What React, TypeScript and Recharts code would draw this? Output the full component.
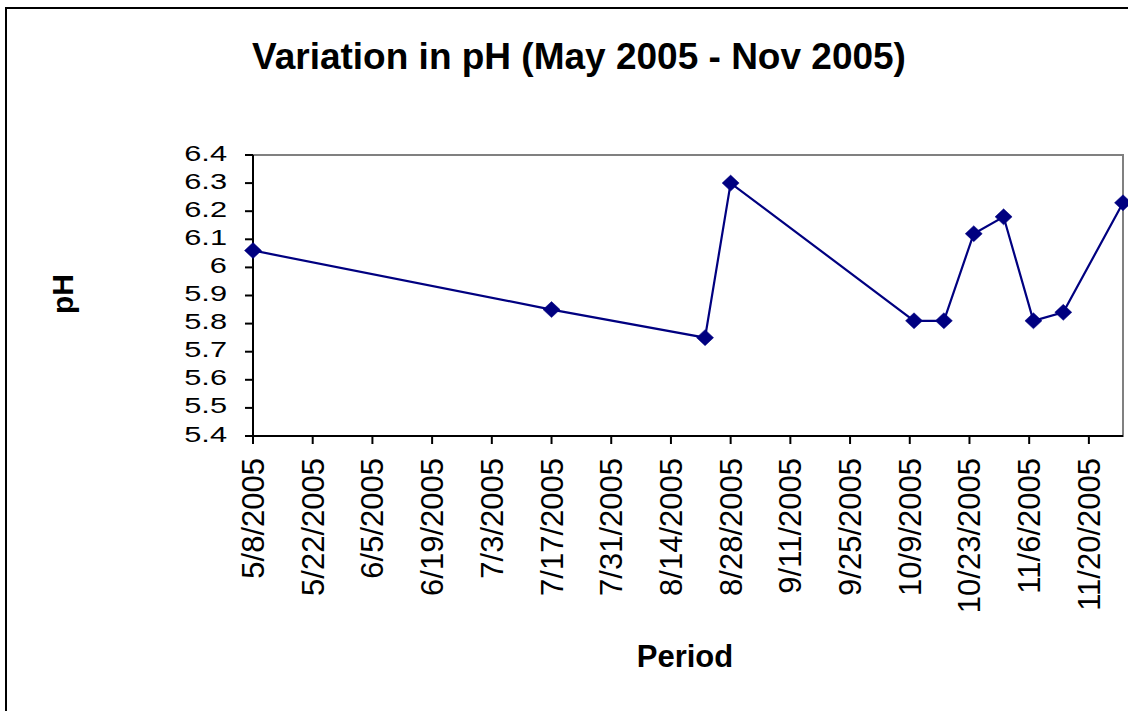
import React from 'react';
import { LineChart, Line, XAxis, YAxis, ReferenceArea } from 'recharts';

const sampleDates = [
  '2005-05-08', '2005-07-17', '2005-08-22', '2005-08-28', '2005-10-10',
  '2005-10-17', '2005-10-24', '2005-10-31', '2005-11-07', '2005-11-14', '2005-11-28',
];
const phValues = [6.06, 5.85, 5.75, 6.3, 5.81, 5.81, 6.12, 6.18, 5.81, 5.84, 6.23];
const xTickDates = [
  '2005-05-08', '2005-05-22', '2005-06-05', '2005-06-19', '2005-07-03', '2005-07-17',
  '2005-07-31', '2005-08-14', '2005-08-28', '2005-09-11', '2005-09-25', '2005-10-09',
  '2005-10-23', '2005-11-06', '2005-11-20',
];
const yTicks = [5.4, 5.5, 5.6, 5.7, 5.8, 5.9, 6.0, 6.1, 6.2, 6.3, 6.4];
const xDomainDates = ['2005-05-08', '2005-11-28'];

const toTs = (s: string) => Date.parse(s + 'T00:00:00Z');
const data = sampleDates.map((d, i) => ({ t: toTs(d), ph: phValues[i] }));
const xTicks = xTickDates.map(toTs);
const xDomain = xDomainDates.map(toTs);

const FONT = '"Liberation Sans", Arial, sans-serif';

const fmtDate = (v: number) => {
  const d = new Date(v);
  return `${d.getUTCMonth() + 1}/${d.getUTCDate()}/${d.getUTCFullYear()}`;
};
const fmtY = (v: number) => String(Number(v.toFixed(1)));

const XTick = (props: any) => {
  const { x, y, payload } = props;
  return (
    <text
      transform={`translate(${x + 11},${y}) rotate(-90)`}
      textAnchor="end"
      fontSize={31}
      fontFamily={FONT}
      fill="#000"
    >
      {fmtDate(payload.value)}
    </text>
  );
};

const YTick = (props: any) => {
  const { x, y, payload } = props;
  return (
    <text
      transform={`translate(${x},${y + 5.5}) scale(1.4,1)`}
      textAnchor="end"
      fontSize={22}
      fontFamily={FONT}
      fill="#000"
    >
      {fmtY(payload.value)}
    </text>
  );
};

const Diamond = (props: any) => {
  const { cx, cy } = props;
  if (cx == null || cy == null) return null;
  return (
    <polygon
      points={`${cx},${cy - 8} ${cx + 8.5},${cy} ${cx},${cy + 8} ${cx - 8.5},${cy}`}
      fill="#000080"
      stroke="#000080"
      strokeWidth={0.5}
    />
  );
};

const PeriodLabel = (props: any) => {
  const vb = props.viewBox || {};
  return (
    <text
      x={vb.x + vb.width / 2 - 3}
      y={vb.y + 231}
      textAnchor="middle"
      fontSize={31}
      fontWeight="bold"
      fontFamily={FONT}
      fill="#000"
    >
      Period
    </text>
  );
};

const PhLabel = (props: any) => {
  const vb = props.viewBox || {};
  return (
    <text
      transform={`translate(${vb.x + 73},${vb.y + vb.height / 2 - 1.5}) rotate(-90)`}
      textAnchor="middle"
      fontSize={30}
      fontWeight="bold"
      fontFamily={FONT}
      fill="#000"
    >
      pH
    </text>
  );
};

export default function App() {
  return (
    <div
      style={{
        position: 'absolute',
        left: 0,
        top: 0,
        width: 1128,
        height: 711,
        overflow: 'hidden',
        background: '#fff',
      }}
    >
      <div
        style={{
          position: 'absolute',
          left: 5,
          top: 7,
          width: 1160,
          height: 740,
          border: '2px solid #000',
          boxSizing: 'border-box',
        }}
      />
      <div style={{ position: 'absolute', left: 0, top: 0 }}>
        <LineChart
          width={1128}
          height={711}
          data={data}
          margin={{ top: 155, right: 5, left: 0, bottom: 0 }}
        >
          <text
            x={579}
            y={69}
            textAnchor="middle"
            fontSize={37}
            fontWeight="bold"
            fontFamily={FONT}
            fill="#000"
          >
            Variation in pH (May 2005 - Nov 2005)
          </text>
          <ReferenceArea
            x1={xDomain[0]}
            x2={xDomain[1]}
            y1={5.4}
            y2={6.4}
            fill="none"
            fillOpacity={0}
            stroke="#808080"
            strokeWidth={2}
            ifOverflow="visible"
          />
          <XAxis
            dataKey="t"
            type="number"
            domain={xDomain}
            ticks={xTicks}
            interval={0}
            height={275}
            tickSize={8}
            tickMargin={14}
            tick={<XTick />}
            axisLine={{ stroke: '#000', strokeWidth: 2 }}
            tickLine={{ stroke: '#000', strokeWidth: 2 }}
            label={<PeriodLabel />}
          />
          <YAxis
            type="number"
            domain={[5.4, 6.4]}
            ticks={yTicks}
            interval={0}
            width={253}
            tickSize={8}
            tickMargin={18}
            tick={<YTick />}
            axisLine={{ stroke: '#000', strokeWidth: 2 }}
            tickLine={{ stroke: '#000', strokeWidth: 2 }}
            label={<PhLabel />}
          />
          <Line
            type="linear"
            dataKey="ph"
            stroke="#000080"
            strokeWidth={2.2}
            dot={<Diamond />}
            activeDot={false}
            isAnimationActive={false}
          />
        </LineChart>
      </div>
    </div>
  );
}
